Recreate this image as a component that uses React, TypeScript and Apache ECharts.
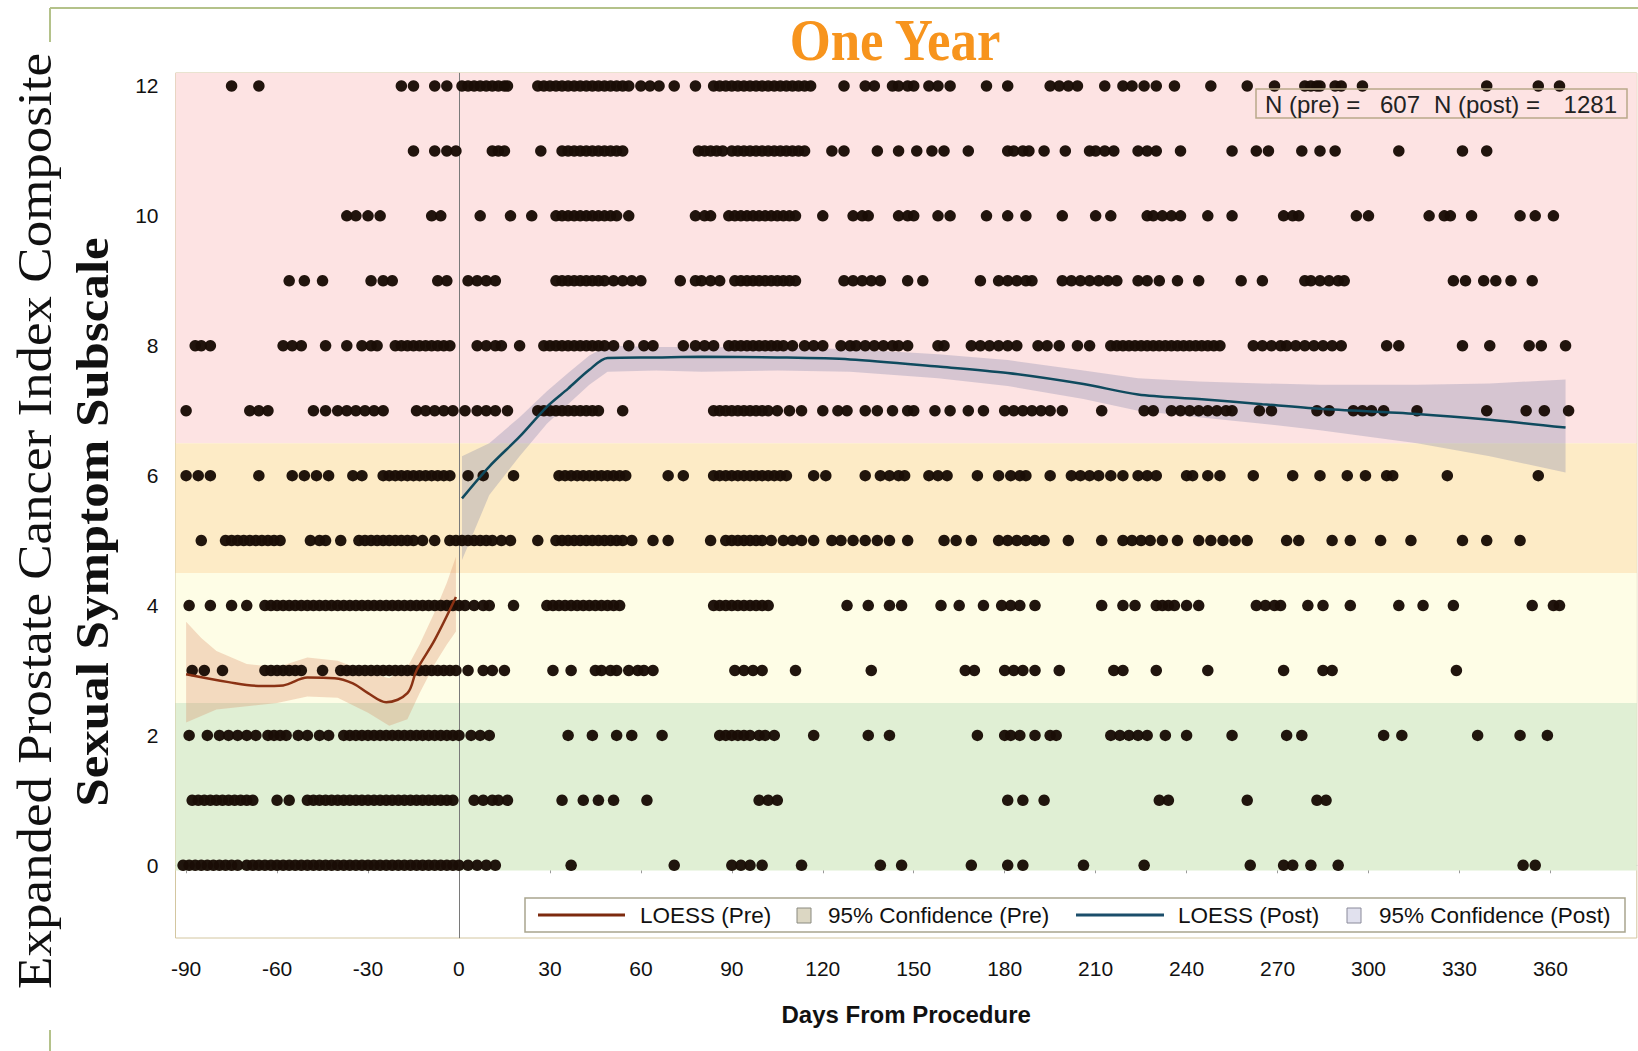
import React, { useEffect, useRef } from "react";
import * as echarts from "echarts";

// ---------- DATA ----------
const xTickValues = [-90, -60, -30, 0, 30, 60, 90, 120, 150, 180, 210, 240, 270, 300, 330, 360];
const yTickValues = [0, 2, 4, 6, 8, 10, 12];

const daysScore12 = [-75, -66, -19, -15, -8, -4, 1, 3, 5, 7, 9, 11, 13, 15, 16, 26, 28, 30, 32, 34, 36, 38, 40, 42, 44, 46, 48, 50, 52, 54, 56, 60, 63, 66, 71, 78, 84, 86, 88, 90, 92, 94, 96, 98, 100, 102, 104, 106, 108, 110, 112, 114, 116, 127, 134, 137, 143, 145, 148, 150, 155, 158, 162, 174, 181, 195, 198, 201, 204, 213, 219, 222, 226, 230, 236, 248, 260, 269, 279, 281, 283, 284, 289, 291, 298, 339, 356, 363];
const daysScore11 = [-15, -8, -4, -1, 11, 13, 15, 27, 34, 36, 38, 40, 42, 44, 46, 48, 50, 52, 54, 79, 81, 83, 85, 87, 90, 92, 94, 96, 98, 100, 102, 104, 106, 108, 110, 112, 114, 123, 127, 138, 145, 151, 156, 160, 168, 181, 183, 186, 188, 193, 200, 208, 210, 213, 216, 224, 227, 230, 238, 255, 263, 267, 278, 284, 289, 310, 331, 339];
const daysScore10 = [-37, -34, -30, -26, -9, -6, 7, 17, 24, 32, 34, 36, 38, 40, 42, 44, 46, 48, 50, 52, 56, 78, 81, 83, 89, 91, 93, 95, 97, 99, 101, 103, 105, 107, 109, 111, 120, 130, 133, 135, 145, 148, 150, 158, 162, 174, 181, 187, 199, 210, 215, 227, 229, 232, 235, 238, 247, 255, 272, 275, 277, 296, 300, 320, 325, 327, 334, 350, 355, 361];
const daysScore9 = [-56, -51, -45, -29, -25, -22, -7, -4, 3, 6, 9, 12, 32, 34, 36, 38, 40, 42, 44, 46, 48, 51, 54, 57, 60, 73, 78, 80, 83, 86, 91, 93, 95, 97, 99, 101, 103, 105, 107, 109, 111, 127, 130, 133, 136, 139, 148, 153, 172, 178, 181, 184, 187, 189, 199, 202, 205, 208, 211, 214, 217, 224, 227, 231, 237, 244, 258, 265, 279, 281, 284, 287, 290, 292, 328, 332, 338, 342, 347, 354];
const daysScore8 = [-87, -85, -82, -58, -55, -52, -44, -37, -32, -29, -27, -21, -19, -17, -15, -13, -11, -9, -7, -5, -3, 6, 9, 12, 14, 20, 28, 30, 32, 34, 36, 38, 40, 42, 44, 46, 48, 51, 56, 61, 64, 74, 78, 81, 84, 89, 91, 93, 95, 97, 99, 101, 103, 105, 107, 110, 114, 117, 120, 126, 129, 131, 134, 137, 140, 143, 145, 148, 158, 160, 169, 172, 175, 178, 181, 184, 191, 194, 198, 204, 208, 215, 217, 219, 221, 223, 225, 227, 229, 231, 233, 235, 237, 239, 241, 243, 245, 247, 249, 251, 262, 265, 268, 271, 273, 276, 279, 282, 285, 288, 291, 306, 310, 331, 340, 353, 357, 365];
const daysScore7 = [-90, -69, -66, -63, -48, -44, -40, -37, -34, -31, -28, -25, -14, -11, -8, -5, -2, 2, 6, 9, 12, 16, 26, 28, 30, 32, 34, 36, 38, 40, 42, 44, 46, 54, 84, 86, 88, 90, 92, 94, 96, 98, 100, 102, 105, 109, 113, 120, 125, 128, 134, 138, 143, 148, 150, 157, 162, 168, 173, 180, 183, 186, 189, 192, 195, 199, 212, 226, 229, 235, 238, 241, 244, 247, 250, 253, 255, 264, 268, 283, 287, 295, 298, 301, 305, 316, 339, 352, 358, 366];
const daysScore6 = [-90, -86, -82, -66, -55, -51, -47, -43, -35, -32, -25, -23, -21, -19, -17, -15, -13, -11, -9, -7, -5, -3, 3, 8, 18, 33, 35, 37, 39, 41, 43, 45, 47, 49, 51, 53, 55, 69, 74, 84, 86, 88, 90, 92, 94, 96, 98, 100, 102, 104, 106, 108, 117, 121, 134, 139, 142, 145, 147, 155, 158, 161, 171, 178, 182, 185, 187, 195, 202, 205, 208, 211, 215, 219, 224, 227, 230, 240, 242, 247, 251, 262, 275, 284, 293, 299, 306, 308, 326, 356];
const daysScore5 = [-85, -77, -75, -73, -71, -69, -67, -65, -63, -61, -59, -49, -46, -44, -39, -33, -31, -29, -27, -25, -23, -21, -19, -17, -15, -12, -8, -3, -1, 1, 3, 5, 7, 9, 11, 14, 17, 26, 32, 34, 36, 38, 40, 42, 44, 46, 48, 50, 52, 54, 57, 64, 69, 83, 88, 90, 92, 94, 96, 98, 100, 103, 107, 110, 113, 117, 123, 126, 130, 134, 138, 142, 148, 160, 164, 169, 178, 181, 184, 187, 190, 193, 201, 212, 219, 222, 225, 228, 232, 237, 244, 248, 252, 256, 260, 273, 277, 288, 294, 304, 314, 331, 339, 350];
const daysScore4 = [-89, -82, -75, -70, -64, -62, -60, -58, -56, -54, -52, -50, -48, -46, -44, -42, -40, -38, -36, -34, -32, -30, -28, -26, -24, -22, -20, -18, -16, -14, -12, -10, -8, -6, -4, -2, 0, 2, 5, 8, 10, 18, 29, 31, 33, 35, 37, 39, 41, 43, 45, 47, 49, 51, 53, 84, 86, 88, 90, 92, 94, 96, 98, 100, 102, 128, 135, 142, 146, 159, 165, 173, 179, 182, 185, 190, 212, 219, 223, 230, 232, 234, 236, 240, 244, 263, 266, 269, 271, 280, 285, 294, 310, 318, 328, 354, 361, 363];
const daysScore3 = [-88, -84, -78, -64, -62, -60, -58, -56, -54, -52, -45, -39, -37, -35, -33, -31, -29, -27, -25, -23, -21, -19, -17, -15, -13, -11, -9, -7, -5, -3, -1, 3, 8, 11, 15, 31, 37, 45, 47, 50, 52, 56, 59, 61, 64, 91, 94, 97, 100, 111, 136, 167, 170, 180, 183, 186, 190, 198, 216, 219, 230, 247, 272, 285, 288, 329];
const daysScore2 = [-89, -83, -79, -76, -73, -70, -67, -63, -61, -59, -57, -53, -50, -46, -43, -38, -36, -34, -32, -30, -28, -26, -24, -22, -20, -18, -16, -14, -12, -10, -8, -6, -4, -2, 0, 4, 7, 10, 36, 44, 52, 57, 67, 86, 88, 90, 92, 94, 96, 99, 101, 104, 117, 135, 142, 171, 180, 182, 185, 190, 195, 197, 215, 218, 221, 224, 227, 233, 240, 255, 273, 278, 305, 311, 336, 350, 359];
const daysScore1 = [-88, -86, -84, -82, -80, -78, -76, -74, -72, -70, -68, -60, -56, -50, -48, -46, -44, -42, -40, -38, -36, -34, -32, -30, -28, -26, -24, -22, -20, -18, -16, -14, -12, -10, -8, -6, -4, -2, 5, 8, 11, 13, 16, 34, 41, 46, 51, 62, 99, 102, 105, 181, 186, 193, 231, 234, 260, 283, 286];
const daysScore0 = [-91, -89, -87, -85, -83, -81, -79, -77, -75, -73, -70, -68, -66, -64, -62, -60, -58, -56, -54, -52, -50, -48, -46, -44, -42, -40, -38, -36, -34, -32, -30, -28, -26, -24, -22, -20, -18, -16, -14, -12, -10, -8, -6, -4, -2, 0, 3, 6, 9, 12, 37, 71, 90, 93, 96, 100, 113, 139, 146, 169, 181, 186, 206, 226, 261, 272, 275, 281, 290, 351, 355];

const scoreLevels = [12, 11, 10, 9, 8, 7, 6, 5, 4, 3, 2, 1, 0];
const daysByLevel = [daysScore12, daysScore11, daysScore10, daysScore9, daysScore8, daysScore7, daysScore6, daysScore5, daysScore4, daysScore3, daysScore2, daysScore1, daysScore0];

const preLoessDays = [-90, -76, -65, -58, -50, -41, -35, -30, -24, -17, -14, -8, -1];
const preLoessValues = [2.94, 2.82, 2.76, 2.77, 2.89, 2.88, 2.8, 2.65, 2.51, 2.65, 3.0, 3.47, 4.13];
const preCIDays = [-90, -85, -80, -70, -60, -50, -40, -30, -23, -17, -13, -8, -4, -1];
const preCILower = [2.2, 2.3, 2.4, 2.45, 2.5, 2.6, 2.58, 2.35, 2.15, 2.25, 2.65, 3.1, 3.4, 3.6];
const preCIUpper = [3.75, 3.5, 3.3, 3.1, 3.05, 3.2, 3.15, 2.97, 2.88, 3.05, 3.4, 3.9, 4.35, 4.75];

const postLoessDays = [1, 10, 20, 29, 36, 43, 49, 65, 80, 105, 129, 158, 181, 206, 224, 244, 265, 284, 316, 340, 365];
const postLoessValues = [5.65, 6.14, 6.6, 7.06, 7.34, 7.63, 7.81, 7.82, 7.83, 7.82, 7.79, 7.68, 7.58, 7.41, 7.25, 7.18, 7.1, 7.03, 6.95, 6.86, 6.74];
const postCILower = [4.7, 5.7, 6.3, 6.8, 7.1, 7.4, 7.6, 7.62, 7.6, 7.62, 7.6, 7.5, 7.38, 7.18, 7.0, 6.9, 6.8, 6.7, 6.5, 6.3, 6.05];
const postCIUpper = [6.3, 6.5, 6.9, 7.3, 7.58, 7.85, 8.0, 7.98, 7.98, 7.97, 7.95, 7.87, 7.78, 7.62, 7.5, 7.45, 7.42, 7.4, 7.4, 7.42, 7.48];

const bandLimits = [[6.5, 12.2], [4.5, 6.5], [2.5, 4.5], [-0.08, 2.5]];

const titleText = "One Year";
const yTitleLine1 = "Expanded Prostate Cancer Index Composite";
const yTitleLine2 = "Sexual Symptom Subscale";
const xTitle = "Days From Procedure";
const legendLabels = ["LOESS (Pre)", "95% Confidence (Pre)", "LOESS (Post)", "95% Confidence (Post)"];
const nPre = 607;
const nPost = 1281;

// ---------- COMPONENT ----------
export default function App() {
  const ref = useRef<HTMLDivElement>(null);

  useEffect(() => {
    if (!ref.current) return;
    const chart = echarts.init(ref.current, undefined, { renderer: "svg" });

    const dots: number[][] = [];
    scoreLevels.forEach((lvl, i) => {
      daysByLevel[i].forEach((d) => dots.push([d, lvl]));
    });

    const bandColors = ["#fde3e3", "#fdebc6", "#fefde6", "#e0efd4"];

    const polygonSeries = (days: number[], lo: number[], hi: number[], fill: string) => ({
      type: "custom",
      z: 2,
      silent: true,
      data: [[days[0], lo[0]]],
      renderItem: (_params: any, api: any) => {
        const pts: number[][] = [];
        for (let i = 0; i < days.length; i++) pts.push(api.coord([days[i], hi[i]]));
        for (let i = days.length - 1; i >= 0; i--) pts.push(api.coord([days[i], lo[i]]));
        return { type: "polygon", shape: { points: pts }, style: { fill } };
      },
    });

    const font = "'Liberation Sans', Arial, sans-serif";
    const serif = "'Liberation Serif', 'Times New Roman', serif";

    const option: any = {
      animation: false,
      backgroundColor: "#ffffff",
      grid: {
        left: 175.5,
        top: 73,
        right: 1.2,
        bottom: 113,
        show: true,
        borderColor: "#d3c6a0",
        borderWidth: 1,
        backgroundColor: "transparent",
      },
      xAxis: {
        type: "value",
        min: -93.5,
        max: 388.5,
        splitLine: { show: false },
        axisLine: { show: true, lineStyle: { color: "#a8a8a8", width: 1 } },
        axisTick: { show: true, length: 8, customValues: xTickValues, lineStyle: { color: "#9a9a9a" } },
        axisLabel: {
          customValues: xTickValues,
          fontSize: 21,
          color: "#111",
          fontFamily: font,
          margin: 20,
        },
        name: xTitle,
        nameLocation: "middle",
        nameGap: 64,
        nameTextStyle: { fontSize: 24, fontWeight: "bold", color: "#111", fontFamily: font },
      },
      yAxis: {
        type: "value",
        min: -1.12,
        max: 12.2,
        splitLine: { show: false },
        axisLine: { show: true, lineStyle: { color: "#c8c0a0", width: 1 } },
        axisTick: { show: true, length: 8, customValues: yTickValues, lineStyle: { color: "#9a9a9a" } },
        axisLabel: {
          customValues: yTickValues,
          fontSize: 21,
          color: "#111",
          fontFamily: font,
          margin: 17,
        },
      },
      series: [
        {
          type: "line",
          data: [],
          silent: true,
          markArea: {
            silent: true,
            z: 1,
            data: bandLimits.map((b, i) => [
              { yAxis: b[0], itemStyle: { color: bandColors[i] } },
              { yAxis: b[1] },
            ]),
          },
          markLine: {
            silent: true,
            symbol: "none",
            z: 2,
            label: { show: false },
            lineStyle: { color: "#7a7a7a", width: 1, type: "solid" },
            data: [{ xAxis: 0 }],
          },
        },
        polygonSeries(preCIDays, preCILower, preCIUpper, "rgba(215,125,85,0.27)"),
        polygonSeries(postLoessDays, postCILower, postCIUpper, "rgba(125,130,170,0.3)"),
        {
          type: "scatter",
          z: 3,
          symbol: "circle",
          symbolSize: 11.5,
          silent: true,
          itemStyle: { color: "#1a0d06", opacity: 0.97 },
          data: dots,
        },
        {
          type: "line",
          z: 4,
          symbol: "none",
          smooth: 0.35,
          silent: true,
          lineStyle: { color: "#8a3214", width: 2.5 },
          data: preLoessDays.map((d, i) => [d, preLoessValues[i]]),
        },
        {
          type: "line",
          z: 4,
          symbol: "none",
          smooth: 0.3,
          silent: true,
          lineStyle: { color: "#0f4a5e", width: 2.5 },
          data: postLoessDays.map((d, i) => [d, postLoessValues[i]]),
        },
      ],
      graphic: [
        { type: "line", z: 50, shape: { x1: 50, y1: 8, x2: 1638, y2: 8 }, style: { stroke: "#b4c28a", lineWidth: 2 } },
        { type: "line", z: 50, shape: { x1: 50, y1: 8, x2: 50, y2: 42 }, style: { stroke: "#b4c28a", lineWidth: 2 } },
        { type: "line", z: 50, shape: { x1: 50, y1: 1030, x2: 50, y2: 1051 }, style: { stroke: "#b4c28a", lineWidth: 2 } },
        {
          type: "text",
          z: 50,
          x: 895,
          y: 40,
          scaleX: 0.88,
          style: {
            text: titleText,
            fill: "#f7941d",
            font: `bold 60px ${serif}`,
            textAlign: "center",
            textVerticalAlign: "middle",
          },
        },
        {
          type: "text",
          z: 50,
          x: 35,
          y: 521,
          rotation: Math.PI / 2,
          scaleY: 0.9,
          style: {
            text: yTitleLine1,
            fill: "#111",
            font: `normal 53px ${serif}`,
            textAlign: "center",
            textVerticalAlign: "middle",
          },
        },
        {
          type: "text",
          z: 50,
          x: 92,
          y: 522,
          rotation: Math.PI / 2,
          scaleY: 0.9,
          style: {
            text: yTitleLine2,
            fill: "#111",
            font: `bold 51px ${serif}`,
            textAlign: "center",
            textVerticalAlign: "middle",
          },
        },
        { type: "rect", z: 50, shape: { x: 1256, y: 89, width: 371, height: 29 }, style: { fill: "none", stroke: "#b9a98a", lineWidth: 1.5 } },
        { type: "text", z: 51, x: 1265, y: 104, style: { text: "N (pre) =", fill: "#222", font: `24px ${font}`, textVerticalAlign: "middle" } },
        { type: "text", z: 51, x: 1380, y: 104, style: { text: String(nPre), fill: "#222", font: `24px ${font}`, textVerticalAlign: "middle" } },
        { type: "text", z: 51, x: 1434, y: 104, style: { text: "N (post) =", fill: "#222", font: `24px ${font}`, textVerticalAlign: "middle" } },
        { type: "text", z: 51, x: 1617, y: 104, style: { text: String(nPost), fill: "#222", font: `24px ${font}`, textAlign: "right", textVerticalAlign: "middle" } },
        { type: "rect", z: 50, shape: { x: 525, y: 898, width: 1100, height: 34 }, style: { fill: "#ffffff", stroke: "#a9a58e", lineWidth: 1.5 } },
        { type: "line", z: 51, shape: { x1: 538, y1: 915, x2: 625, y2: 915 }, style: { stroke: "#7d2a0e", lineWidth: 3 } },
        { type: "text", z: 51, x: 640, y: 915, style: { text: legendLabels[0], fill: "#111", font: `22.5px ${font}`, textVerticalAlign: "middle" } },
        { type: "rect", z: 51, shape: { x: 797, y: 908, width: 14, height: 15 }, style: { fill: "#dcd7c3", stroke: "#8a8a80", lineWidth: 1 } },
        { type: "text", z: 51, x: 828, y: 915, style: { text: legendLabels[1], fill: "#111", font: `22.5px ${font}`, textVerticalAlign: "middle" } },
        { type: "line", z: 51, shape: { x1: 1076, y1: 915, x2: 1164, y2: 915 }, style: { stroke: "#1b4e6b", lineWidth: 3 } },
        { type: "text", z: 51, x: 1178, y: 915, style: { text: legendLabels[2], fill: "#111", font: `22.5px ${font}`, textVerticalAlign: "middle" } },
        { type: "rect", z: 51, shape: { x: 1347, y: 908, width: 14, height: 15 }, style: { fill: "#e1e1ee", stroke: "#8a8a9a", lineWidth: 1 } },
        { type: "text", z: 51, x: 1379, y: 915, style: { text: legendLabels[3], fill: "#111", font: `22.5px ${font}`, textVerticalAlign: "middle" } },
      ],
    };

    chart.setOption(option);
    return () => chart.dispose();
  }, []);

  return (
    <div
      ref={ref}
      style={{ position: "fixed", left: 0, top: 0, width: 1638, height: 1051 }}
    />
  );
}
